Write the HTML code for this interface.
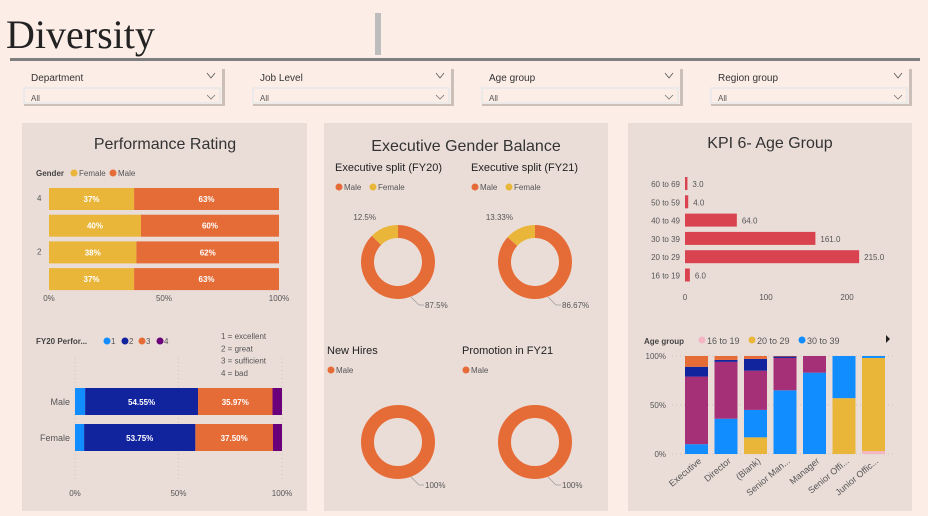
<!DOCTYPE html>
<html><head><meta charset="utf-8">
<style>
body{margin:0;width:928px;height:516px;overflow:hidden;background:#fcede6;font-family:"Liberation Sans",sans-serif}
svg{position:absolute;left:0;top:0}
text{font-family:"Liberation Sans",sans-serif}
</style></head><body>
<svg id="s" width="928" height="516" xmlns="http://www.w3.org/2000/svg">
<text x="6" y="48" style="font-family:'Liberation Serif',serif" font-size="40" fill="#222">Diversity</text>
<rect x="375" y="13" width="6" height="42" fill="#bdbdbd"/>
<rect x="10" y="58" width="910" height="3" fill="#7f7f7f"/>
<g id="slicers"></g>
<rect x="22" y="123" width="285" height="388" fill="#eaddd8"/>
<rect x="324" y="123" width="284" height="388" fill="#eaddd8"/>
<rect x="628" y="123" width="284" height="388" fill="#eaddd8"/>
<text x="165" y="149" font-size="16" text-anchor="middle" fill="#333">Performance Rating</text>
<text x="466" y="151" font-size="16" text-anchor="middle" fill="#333">Executive Gender Balance</text>
<text x="770" y="148" font-size="16" text-anchor="middle" fill="#333">KPI 6- Age Group</text>
<g id="g1"></g><g id="g2"></g><g id="g3"></g><g id="g4"></g><g id="g5"></g>
</svg>
<script>
const slicerNames=["Department","Job Level","Age group","Region group"];
const genderRows=["4","3","2","1"];
const femaleShare=[37,40,38,37];
const perfGroups=["Male","Female"];
const perf1=[4.9,4.4];const perf2=[54.55,53.75];const perf3=[35.97,37.5];const perf4=[4.58,4.35];
const donutTitles=["Executive split (FY20)","Executive split (FY21)","New Hires","Promotion in FY21"];
const donutFemale=[12.5,13.33,0,0];
const ageCats=["60 to 69","50 to 59","40 to 49","30 to 39","20 to 29","16 to 19"];
const ageCounts=[3,4,64,161,215,6];
const ageTicks=[0,100,200];
const levels=["Executive","Director","(Blank)","Senior Man...","Manager","Senior Offi...","Junior Offic..."];
const a1619=[0,0,0,0,0,0,3];
const a2029=[0,0,17,0,0,57,95];
const a3039=[10,36,28,65,83,43,2];
const a4049=[69,58,40,33,17,0,0];
const a5059=[10,2,12,1.5,0,0,0];
const a6069=[11,4,3,0.5,0,0,0];
const NS="http://www.w3.org/2000/svg";
function el(p,t,a,txt){const e=document.createElementNS(NS,t);for(const k in a)e.setAttribute(k,a[k]);if(txt!==undefined)e.textContent=txt;p.appendChild(e);return e;}
const C={f:"#e9b63a",m:"#e66c37",p1:"#118dff",p2:"#12239e",p4:"#6b007b",mag:"#a53078",pink:"#f4b6c2",red:"#d9434f",txt:"#444"};
const sl=document.getElementById("slicers");
slicerNames.forEach((n,i)=>{const x=22+i*229;
 let r=el(sl,"rect",{x:x+2,y:69,width:201,height:37,fill:"#cbbfba"});
 let b=el(sl,"rect",{x:x,y:66,width:200,height:38,fill:"#fcede6"});
 let t=el(sl,"text",{x:x+9,y:81,"font-size":10,fill:"#333"},n);
 let c=el(sl,"path",{d:`M${x+185} 73 L${x+189} 78 L${x+193} 73`,fill:"none",stroke:"#555","stroke-width":0.8});
 let ib=el(sl,"rect",{x:x+2,y:88,width:196,height:15,fill:"none",stroke:"#dde6ea"});
 let a=el(sl,"text",{x:x+9,y:101,"font-size":8,fill:"#555"},"All");
 let c2=el(sl,"path",{d:`M${x+185} 95 L${x+189} 99 L${x+193} 95`,fill:"none",stroke:"#777","stroke-width":0.8});
});
const g1=document.getElementById("g1");
const x1=v=>49+v*2.3;
let t=el(g1,"text",{x:36,y:176,"font-size":8,"font-weight":"bold",fill:C.txt},"Gender");
[["Female",C.f,74],["Male",C.m,113]].forEach(d=>{let c=el(g1,"circle",{cx:d[2],cy:173,r:3.5,fill:d[1]});
 let tt=el(g1,"text",{x:d[2]+5,y:176,"font-size":8,fill:"#555"},d[0]);});
genderRows.forEach((r,i)=>{const y=188+i*26.7;const f=femaleShare[i];
 let a=el(g1,"rect",{x:x1(0),y:y,width:x1(f)-x1(0),height:22,fill:C.f});
 let b=el(g1,"rect",{x:x1(f),y:y,width:x1(100)-x1(f),height:22,fill:C.m});
 let l1=el(g1,"text",{x:(x1(0)+x1(f))/2,y:y+14,"font-size":8,"font-weight":"bold",fill:"#fff","text-anchor":"middle"},f+"%");
 let l2=el(g1,"text",{x:(x1(f)+x1(100))/2,y:y+14,"font-size":8,"font-weight":"bold",fill:"#fff","text-anchor":"middle"},(100-f)+"%");
 if(r==="4"||r==="2"){let yl=el(g1,"text",{x:37,y:y+13,"font-size":8,fill:"#555"},r);}
});
[0,50,100].forEach(v=>{let tk=el(g1,"text",{x:x1(v),y:301,"font-size":8,fill:"#555","text-anchor":"middle"},v+"%");});
const g2=document.getElementById("g2");
const x2=v=>75+v*2.07;
t=el(g2,"text",{x:36,y:344,"font-size":8,"font-weight":"bold",fill:C.txt},"FY20 Perfor...");
[["1",C.p1,107],["2",C.p2,125],["3",C.m,142],["4",C.p4,160]].forEach(d=>{let c=el(g2,"circle",{cx:d[2],cy:341,r:3.5,fill:d[1]});
 let tt=el(g2,"text",{x:d[2]+4,y:344,"font-size":8,fill:"#555"},d[0]);});
["1 = excellent","2 = great","3 = sufficient","4 = bad"].forEach((s,i)=>{let tt=el(g2,"text",{x:221,y:339+i*12.3,"font-size":8,fill:"#555"},s);});
[0,50,100].forEach(v=>{let ln=el(g2,"line",{x1:x2(v),x2:x2(v),y1:358,y2:482,stroke:"#cfc4bf","stroke-dasharray":"1 3"});
 let tk=el(g2,"text",{x:x2(v),y:496,"font-size":8,fill:"#555","text-anchor":"middle"},v+"%");});
perfGroups.forEach((g,i)=>{const y=388+i*36;let acc=0;
 [[perf1[i],C.p1],[perf2[i],C.p2],[perf3[i],C.m],[perf4[i],C.p4]].forEach((s,j)=>{
  let r=el(g2,"rect",{x:x2(acc),y:y,width:x2(acc+s[0])-x2(acc),height:27,fill:s[1]});
  if(j===1||j===2){let l=el(g2,"text",{x:(x2(acc)+x2(acc+s[0]))/2,y:y+17,"font-size":8,"font-weight":"bold",fill:"#fff","text-anchor":"middle"},s[0].toFixed(2)+"%");}
  acc+=s[0];});
 let yl=el(g2,"text",{x:70,y:y+17,"font-size":9,fill:"#555","text-anchor":"end"},g);
});
const g3=document.getElementById("g3");
const centers=[[398,262],[535,262],[398,442],[535,442]];
const titlePos=[[335,171],[471,171],[327,354],[462,354]];
const RO=37,RI=24;
function arc(cx,cy,R,r,a0,a1){const p=(a,rad)=>[cx+rad*Math.sin(a),cy-rad*Math.cos(a)];const lg=(a1-a0)>Math.PI?1:0;const A=p(a0,R),B=p(a1,R),Cc=p(a1,r),D=p(a0,r);
 return `M${A[0]} ${A[1]}A${R} ${R} 0 ${lg} 1 ${B[0]} ${B[1]}L${Cc[0]} ${Cc[1]}A${r} ${r} 0 ${lg} 0 ${D[0]} ${D[1]}Z`;}
donutTitles.forEach((n,i)=>{const [cx,cy]=centers[i];const f=donutFemale[i];const tp=titlePos[i];
 let tt=el(g3,"text",{x:tp[0],y:tp[1],"font-size":11,fill:"#222"},n);
 let mc=el(g3,"circle",{cx:tp[0]+4,cy:tp[1]+16,r:3.5,fill:C.m});
 let ml=el(g3,"text",{x:tp[0]+9,y:tp[1]+19,"font-size":8,fill:"#555"},"Male");
 if(i<2){let fc=el(g3,"circle",{cx:tp[0]+38,cy:tp[1]+16,r:3.5,fill:C.f});
  let fl=el(g3,"text",{x:tp[0]+43,y:tp[1]+19,"font-size":8,fill:"#555"},"Female");}
 const fa=f/100*2*Math.PI;
 if(f>0){let fp=el(g3,"path",{d:arc(cx,cy,RO,RI,2*Math.PI-fa,2*Math.PI),fill:C.f});
  let mp=el(g3,"path",{d:arc(cx,cy,RO,RI,0,2*Math.PI-fa),fill:C.m});
  let fl=el(g3,"text",{x:cx-22,y:cy-42,"font-size":8,fill:"#555","text-anchor":"end"},(Math.round(f*100)/100)+"%");
 } else {let mp=el(g3,"circle",{cx:cx,cy:cy,r:(RO+RI)/2,fill:"none",stroke:C.m,"stroke-width":RO-RI});}
 let ln=el(g3,"polyline",{points:`${cx+13},${cy+35} ${cx+21},${cy+43} ${cx+26},${cy+43}`,fill:"none",stroke:"#999","stroke-width":0.7});
 let mlab=el(g3,"text",{x:cx+27,y:cy+46,"font-size":8,fill:"#555"},(Math.round((100-f)*100)/100)+"%");
});
const g4=document.getElementById("g4");
const x4=v=>685+v*0.81;
ageCats.forEach((c,i)=>{const y=177+i*18.3;
 let r=el(g4,"rect",{x:x4(0),y:y,width:x4(ageCounts[i])-x4(0),height:13,fill:C.red});
 let l=el(g4,"text",{x:680,y:y+10,"font-size":8,fill:"#555","text-anchor":"end"},c);
 let v=el(g4,"text",{x:x4(ageCounts[i])+5,y:y+10,"font-size":8,fill:"#555"},ageCounts[i].toFixed(1));
});
ageTicks.forEach(v=>{let tk=el(g4,"text",{x:x4(v),y:300,"font-size":8,fill:"#555","text-anchor":"middle"},v);});
const g5=document.getElementById("g5");
const y5=v=>454-v*0.98;
t=el(g5,"text",{x:644,y:344,"font-size":8,"font-weight":"bold",fill:C.txt},"Age group");
[["16 to 19",C.pink,702],["20 to 29",C.f,752],["30 to 39",C.p1,802]].forEach(d=>{let c=el(g5,"circle",{cx:d[2],cy:340,r:3.5,fill:d[1]});
 let tt=el(g5,"text",{x:d[2]+5,y:344,"font-size":9,fill:"#555"},d[0]);});
let ar=el(g5,"path",{d:"M886 335 L890 339 L886 343 Z",fill:"#222"});
[0,50,100].forEach(v=>{let ln=el(g5,"line",{x1:672,x2:895,y1:y5(v),y2:y5(v),stroke:"#cfc4bf","stroke-dasharray":"1 3"});
 let tk=el(g5,"text",{x:666,y:y5(v)+3,"font-size":8,fill:"#555","text-anchor":"end"},v+"%");});
const series=[[a1619,C.pink],[a2029,C.f],[a3039,C.p1],[a4049,C.mag],[a5059,C.p2],[a6069,C.m]];
levels.forEach((lv,i)=>{const x=685+i*29.5;let acc=0;
 series.forEach((s,j)=>{const v=s[0][i];if(v>0){let r=el(g5,"rect",{x:x,y:y5(acc+v),width:23,height:y5(acc)-y5(acc+v),fill:s[1]});}acc+=v;});
 let l=el(g5,"text",{x:x+17,y:462,"font-size":9,fill:"#555","text-anchor":"end",transform:`rotate(-40 ${x+17} 462)`},lv);
});
</script>
</body></html>
